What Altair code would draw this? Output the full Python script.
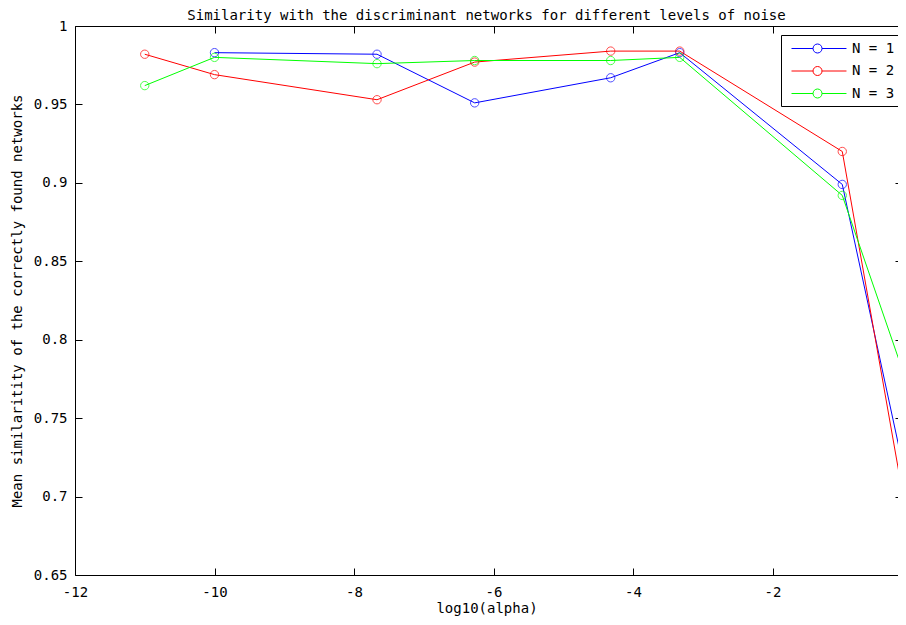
import altair as alt
import pandas as pd

log_alpha = [-11.0, -10.0, -7.67, -6.27, -4.32, -3.33, -1.0, 0.0]
n1 = [None, 0.983, 0.982, 0.951, 0.967, 0.983, 0.899, 0.693]
n2 = [0.982, 0.969, 0.953, 0.977, 0.984, 0.984, 0.920, 0.668]
n3 = [0.962, 0.980, 0.976, 0.978, 0.978, 0.980, 0.892, 0.763]
series = ["N = 1", "N = 2", "N = 3"]
colors = ["#0000ff", "#ff0000", "#00ff00"]
x_ticks = [-12, -10, -8, -6, -4, -2]
y_ticks = [0.65, 0.7, 0.75, 0.8, 0.85, 0.9, 0.95, 1.0]

rows = []
for name, vals in zip(series, [n1, n2, n3]):
    for xv, v in zip(log_alpha, vals):
        if v is not None:
            rows.append({"x": xv, "y": v, "series": name})
df = pd.DataFrame(rows)

FONT = "DejaVu Sans Mono"
x_scale = alt.Scale(domain=[-12, -0.201], nice=False, zero=False)
y_scale = alt.Scale(domain=[0.65, 1.0], nice=False, zero=False)
color_scale = alt.Scale(domain=series, range=colors)

legend_path = "M-0.4,0H2.47M3.67,0H6.93M3.67,0A0.6,0.6,0,1,1,2.47,0A0.6,0.6,0,1,1,3.67,0"

lines = alt.Chart(df).mark_line(strokeWidth=1, clip=True).encode(
    x=alt.X("x:Q", scale=x_scale,
            axis=alt.Axis(orient="bottom", values=x_ticks, labelExpr="'' + datum.value",
                          offset=-7, tickSize=7, domain=False, title="log10(alpha)",
                          labelFlush=False, labelPadding=10, titlePadding=2)),
    y=alt.Y("y:Q", scale=y_scale,
            axis=alt.Axis(orient="left", values=y_ticks, format=".2~f",
                          offset=-7, tickSize=7, domain=False,
                          title="Mean similaritity of the correctly found networks",
                          labelFlush=False, labelPadding=8, titlePadding=9)),
    color=alt.Color("series:N", scale=color_scale,
                    legend=alt.Legend(title=None, orient="none", legendX=706, legendY=9,
                                      symbolType=legend_path, symbolSize=225,
                                      symbolStrokeWidth=1, symbolFillColor="transparent",
                                      rowPadding=7.5, padding=5.5, labelOffset=49.5,
                                      strokeColor="black", fillColor="white",
                                      cornerRadius=0,
                                      labelFont=FONT, labelFontSize=14, labelColor="black")),
)

points = alt.Chart(df).mark_point(filled=False, size=70, strokeWidth=1, clip=True).encode(
    x=alt.X("x:Q", scale=x_scale,
            axis=alt.Axis(orient="top", values=x_ticks, labels=False, offset=-7,
                          tickSize=7, domain=False, title=None)),
    y=alt.Y("y:Q", scale=y_scale,
            axis=alt.Axis(orient="right", values=y_ticks, labels=False, offset=-3,
                          tickSize=3, domain=False, title=None)),
    stroke=alt.Stroke("series:N", scale=color_scale, legend=None),
)

frame_a = alt.Chart(df).mark_point(opacity=0, size=1).encode(
    x=alt.X("x:Q", scale=x_scale,
            axis=alt.Axis(orient="bottom", ticks=False, labels=False, domain=True,
                          domainColor="black", domainWidth=1, title=None)),
    y=alt.Y("y:Q", scale=y_scale,
            axis=alt.Axis(orient="left", ticks=False, labels=False, domain=True,
                          domainColor="black", domainWidth=1, title=None)),
)

frame_b = alt.Chart(df).mark_point(opacity=0, size=1).encode(
    x=alt.X("x:Q", scale=x_scale,
            axis=alt.Axis(orient="top", ticks=False, labels=False, domain=True,
                          domainColor="black", domainWidth=1, title=None)),
    y=alt.Y("y:Q", scale=y_scale, axis=None),
)

chart = alt.layer(lines, points, frame_a, frame_b).resolve_axis(
    x="independent", y="independent"
).properties(
    width=823,
    height=549,
    autosize=alt.AutoSizeParams(type="none"),
    padding={"left": 67, "top": 18, "right": 0, "bottom": 42},
    title=alt.TitleParams("Similarity with the discriminant networks for different levels of noise",
                          font=FONT, fontSize=14, fontWeight="normal", anchor="middle",
                          baseline="alphabetic", offset=-2, dy=13, color="black"),
    background="white",
).configure_view(
    stroke=None
).configure_axis(
    labelFont=FONT, labelFontSize=14, labelColor="black",
    titleFont=FONT, titleFontSize=14, titleFontWeight="normal", titleColor="black",
    tickColor="black", tickWidth=1, grid=False,
)

chart.save("out.html", embed_options={"renderer": "svg", "actions": False})
